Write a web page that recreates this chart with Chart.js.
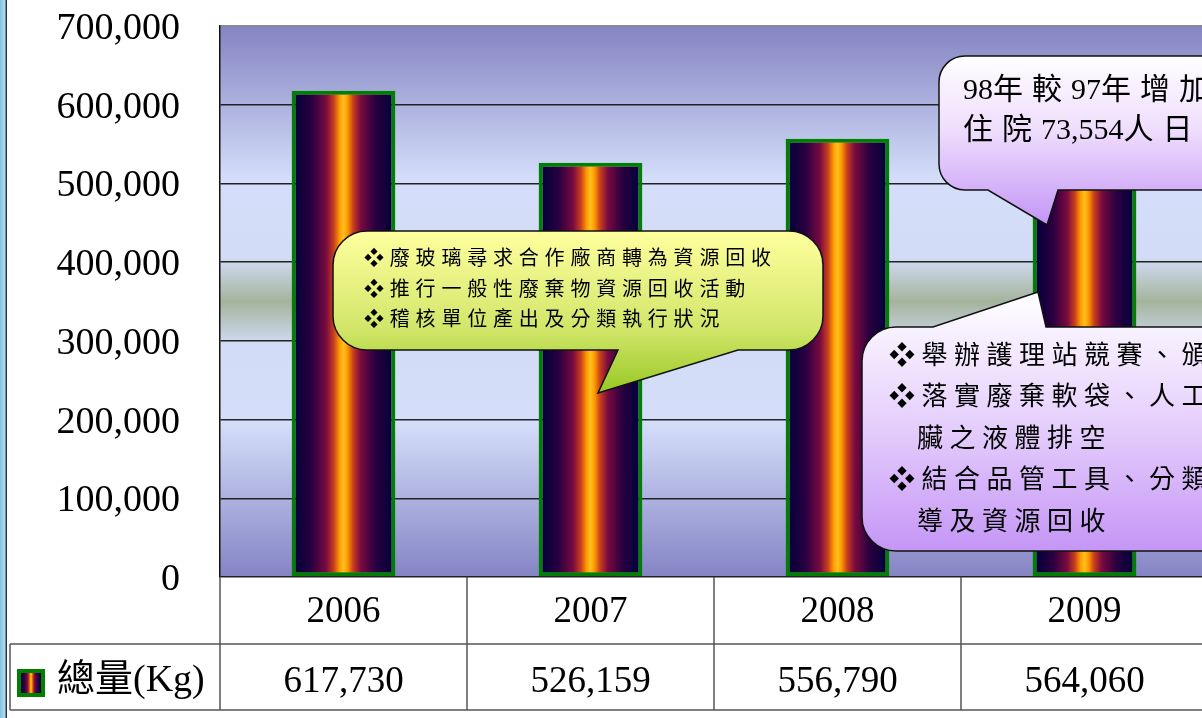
<!doctype html>
<html>

<head>
    <meta charset="utf-8">
    <title>總量(Kg)</title>
    <script src="https://cdn.jsdelivr.net/npm/chart.js@4.4.1/dist/chart.umd.min.js"></script>
    <style>
    body {
        margin: 0;
        overflow: hidden;
        background: linear-gradient(to right, #7fc4e2 0, #b2def0 5px, #2b3845 6px, #2b3845 7px, #fff 7px);
    }
    #holder {
        width: 1212px;
        height: 718px;
    }
    </style>
</head>

<body>

    <div id="holder">
        <canvas id="chart-area"></canvas>
    </div>

    <script>

    var years = ['2006', '2007', '2008', '2009'];
    var totals = [617730, 526159, 556790, 564060];
    var seriesName = '總量(Kg)';
    var yMax = 700000;
    var yStep = 100000;

    var serif = '"Liberation Serif", "Noto Sans CJK TC", serif';
    var cjk = '"Liberation Serif", "Noto Sans CJK TC", sans-serif';

    function fmt(v) {
        return v.toLocaleString('en-US');
    }

    // horizontal dark-navy / maroon / orange stripe used for bars and the legend key
    function barGradient(ctx, left, right) {
        var g = ctx.createLinearGradient(left, 0, right, 0);
        g.addColorStop(0, '#05003a');
        g.addColorStop(0.17, '#2a0040');
        g.addColorStop(0.32, '#7a0a40');
        g.addColorStop(0.4, '#c8401c');
        g.addColorStop(0.46, '#ff9c00');
        g.addColorStop(0.5, '#ffc020');
        g.addColorStop(0.54, '#ff9c00');
        g.addColorStop(0.6, '#c8401c');
        g.addColorStop(0.68, '#7a0a40');
        g.addColorStop(0.83, '#2a0040');
        g.addColorStop(1, '#05003a');
        return g;
    }

    // rounded box with a pointer; tail = [baseA, tip, baseB] on the top or bottom edge
    function bubblePath(ctx, x, y, w, h, r, tail, side) {
        ctx.beginPath();
        ctx.moveTo(x + r, y);
        if (side === 'top') {
            ctx.lineTo(tail[0][0], y);
            ctx.lineTo(tail[1][0], tail[1][1]);
            ctx.lineTo(tail[2][0], y);
        }
        ctx.arcTo(x + w, y, x + w, y + h, r);
        ctx.arcTo(x + w, y + h, x, y + h, r);
        if (side === 'bottom') {
            ctx.lineTo(tail[2][0], y + h);
            ctx.lineTo(tail[1][0], tail[1][1]);
            ctx.lineTo(tail[0][0], y + h);
        }
        ctx.arcTo(x, y + h, x, y, r);
        ctx.arcTo(x, y, x + w, y, r);
        ctx.closePath();
    }

    // full-width glyphs sit on a fixed pitch, latin runs keep their own widths
    function drawLines(ctx, lines, x, y0, dy, size, pitch) {
        ctx.font = size + 'px ' + cjk;
        ctx.fillStyle = '#000';
        ctx.textAlign = 'left';
        ctx.textBaseline = 'middle';
        lines.forEach(function(l, i) {
            var cx = x + l[0], cy = y0 + i * dy;
            Array.from(l[1]).forEach(function(ch) {
                ctx.fillText(ch, cx, cy);
                cx += ch.charCodeAt(0) > 0x2000 ? pitch : ctx.measureText(ch).width;
            });
        });
    }

    var plotBackground = {
        id: 'plotBackground',
        beforeDraw: function(chart) {
            var ctx = chart.ctx, a = chart.chartArea;
            var g = ctx.createLinearGradient(0, a.top, 0, a.bottom);
            g.addColorStop(0, '#8484c2');
            g.addColorStop(0.28, '#d4defa');
            g.addColorStop(0.42, '#d2dcf6');
            g.addColorStop(0.5, '#a4b49c');
            g.addColorStop(0.58, '#d2dcf6');
            g.addColorStop(0.72, '#d4defa');
            g.addColorStop(1, '#8484c4');
            ctx.save();
            ctx.fillStyle = g;
            ctx.fillRect(a.left, a.top, a.right - a.left, a.bottom - a.top);
            ctx.restore();
        }
    };

    var callouts = {
        id: 'callouts',
        afterDatasetsDraw: function(chart) {
            var ctx = chart.ctx;
            ctx.save();
            ctx.lineWidth = 1.5;
            ctx.strokeStyle = '#111';

            // recycling measures
            var g1 = ctx.createLinearGradient(0, 231, 0, 393);
            g1.addColorStop(0, '#ffff9e');
            g1.addColorStop(0.6, '#d2e66a');
            g1.addColorStop(1, '#98c824');
            bubblePath(ctx, 333, 231, 490, 119, 34, [[618, 350], [598, 393], [738, 350]], 'bottom');
            ctx.fillStyle = g1;
            ctx.fill();
            ctx.stroke();
            drawLines(ctx, [
                [0, '❖廢玻璃尋求合作廠商轉為資源回收'],
                [0, '❖推行一般性廢棄物資源回收活動'],
                [0, '❖稽核單位產出及分類執行狀況']
            ], 364, 260, 30.5, 20, 25.8);

            // 2009 note
            var g2 = ctx.createLinearGradient(0, 56, 0, 224);
            g2.addColorStop(0, '#ffffff');
            g2.addColorStop(0.45, '#eedcfc');
            g2.addColorStop(1, '#c396f6');
            bubblePath(ctx, 939, 56, 290, 134, 26, [[988, 190], [1047, 225], [1058, 190]], 'bottom');
            ctx.fillStyle = g2;
            ctx.fill();
            ctx.stroke();
            drawLines(ctx, [
                [0, '98年較97年增加住院'],
                [0, '住院73,554人日']
            ], 963, 91, 40, 30, 39);

            // ward-level measures
            var g3 = ctx.createLinearGradient(0, 292, 0, 551);
            g3.addColorStop(0, '#ffffff');
            g3.addColorStop(0.5, '#e6d0fc');
            g3.addColorStop(1, '#c596f6');
            bubblePath(ctx, 862, 327, 380, 224, 34, [[933, 327], [1038, 292], [1046, 327]], 'top');
            ctx.fillStyle = g3;
            ctx.fill();
            ctx.stroke();
            drawLines(ctx, [
                [0, '❖舉辦護理站競賽、頒獎'],
                [0, '❖落實廢棄軟袋、人工腎'],
                [28, '臟之液體排空'],
                [0, '❖結合品管工具、分類輔'],
                [28, '導及資源回收']
            ], 889, 357, 41.5, 26, 32.5);
            ctx.restore();
        }
    };

    // data table under the x axis
    var dataTable = {
        id: 'dataTable',
        afterDraw: function(chart) {
            var ctx = chart.ctx, a = chart.chartArea, xs = chart.scales.x;
            var half = (xs.right - xs.left) / years.length / 2;
            var row1 = a.bottom + 67, row2 = a.bottom + 133;
            ctx.save();
            ctx.strokeStyle = '#555';
            ctx.lineWidth = 1.5;
            ctx.beginPath();
            ctx.moveTo(10, row1); ctx.lineTo(chart.width, row1);
            ctx.moveTo(10, row2); ctx.lineTo(chart.width, row2);
            ctx.moveTo(10, row1); ctx.lineTo(10, row2);
            ctx.moveTo(a.left, a.bottom); ctx.lineTo(a.left, row2);
            years.forEach(function(y, i) {
                var b = xs.getPixelForValue(i) + half;
                ctx.moveTo(b, a.bottom); ctx.lineTo(b, row2);
            });
            ctx.stroke();

            ctx.fillStyle = '#000';
            ctx.textAlign = 'center';
            ctx.textBaseline = 'middle';
            ctx.font = '37px ' + serif;
            years.forEach(function(y, i) {
                var cx = xs.getPixelForValue(i);
                ctx.fillText(y, cx, (a.bottom + row1) / 2 + 2);
                ctx.fillText(fmt(totals[i]), cx, (row1 + row2) / 2 + 5);
            });

            // legend key
            ctx.fillStyle = '#008000';
            ctx.fillRect(17, 669, 28, 28);
            ctx.fillStyle = barGradient(ctx, 21, 41);
            ctx.fillRect(21, 673, 20, 20);
            ctx.fillStyle = '#000';
            ctx.textAlign = 'left';
            ctx.font = '38px ' + cjk;
            ctx.fillText(seriesName, 57, (row1 + row2) / 2 + 4);
            ctx.restore();
        }
    };

    var config = {
        type: 'bar',
        data: {
            labels: years,
            datasets: [{
                label: seriesName,
                data: totals,
                backgroundColor: function(c) {
                    var chart = c.chart;
                    if (!chart.chartArea) return '#800040';
                    var xs = chart.scales.x;
                    var w = (xs.right - xs.left) / years.length * 0.42;
                    var cx = xs.getPixelForValue(c.dataIndex);
                    return barGradient(chart.ctx, cx - w / 2 + 4, cx + w / 2 - 4);
                },
                borderColor: '#008000',
                borderWidth: 4,
                borderSkipped: false,
                categoryPercentage: 1,
                barPercentage: 0.42
            }]
        },
        options: {
            responsive: true,
            maintainAspectRatio: false,
            animation: false,
            layout: {
                padding: { top: 26, right: 4, left: 0, bottom: 0 }
            },
            plugins: {
                legend: { display: false },
                title: { display: false },
                tooltip: { enabled: false }
            },
            scales: {
                x: {
                    grid: { display: false },
                    border: { display: false },
                    ticks: { display: false },
                    afterFit: function(s) { s.height = 141; }
                },
                y: {
                    min: 0,
                    max: yMax,
                    ticks: {
                        stepSize: yStep,
                        padding: 40,
                        labelOffset: 3,
                        color: '#000',
                        font: { family: serif, size: 38 },
                        callback: function(v) { return fmt(v); }
                    },
                    grid: {
                        drawTicks: false,
                        lineWidth: 1.4,
                        color: function(c) {
                            return c.tick && c.tick.value === yMax ? '#888' : '#222';
                        }
                    },
                    border: { display: true, color: '#111', width: 1.5 },
                    afterFit: function(s) {
                        s.width = 220;
                        s.paddingTop = 0;
                        s.paddingBottom = 0;
                    }
                }
            }
        },
        plugins: [plotBackground, callouts, dataTable]
    };

    window.onload = function() {
        var ctx = document.getElementById('chart-area').getContext('2d');
        window.myBar = new Chart(ctx, config);
    };

    </script>
</body>

</html>
